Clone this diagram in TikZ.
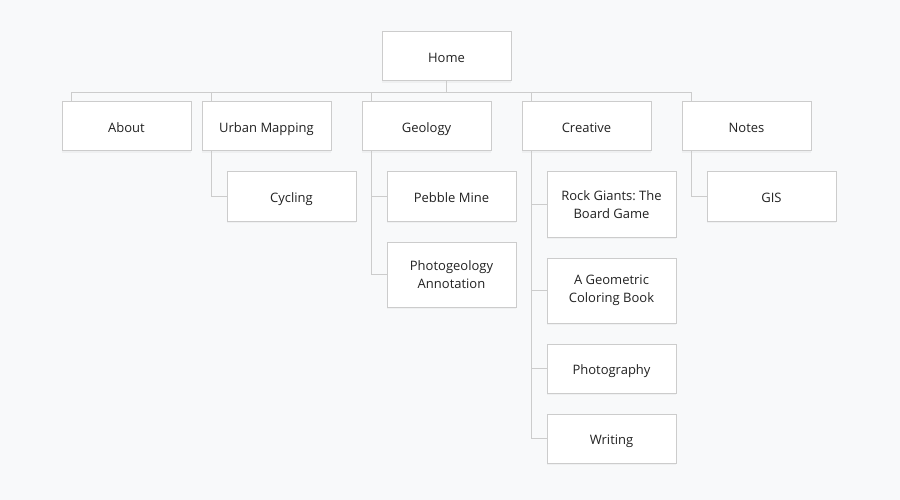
\documentclass[tikz,border=0pt]{standalone}
\usepackage{fontspec}
\setmainfont{Open Sans}
\usepackage{xcolor}
\usepackage{tikz}
\usetikzlibrary{shadows}
\frenchspacing
\definecolor{sitebg}{RGB}{248, 249, 250}
\definecolor{siteline}{RGB}{204, 204, 204}
\definecolor{sitetext}{RGB}{34, 34, 34}

\begin{document}
\begin{tikzpicture}[x=1pt, y=-1pt,
    pagebox/.style={draw=siteline, line width=1pt, fill=white, minimum width=129pt,
        align=center, text=sitetext, font=\fontsize{13}{18}\selectfont,
        drop shadow={shadow xshift=0pt, shadow yshift=-2pt, opacity=0.07}},
    page/.style={pagebox, minimum height=49pt, text height=12pt, text depth=0pt},
    tallpage/.style={pagebox, minimum height=65pt},
    link/.style={draw=siteline, line width=1pt}]
    % background
    \fill[sitebg] (0,0) rectangle (900,500);
    \useasboundingbox (0,0) rectangle (900,500);

    % root
    \node[page] (home) at (446.5,56.5) {Home};

    % top level sections
    \node[page] (about) at (126.5,126.5) {About};
    \node[page] (urban) at (266.5,126.5) {Urban Mapping};
    \node[page] (geology) at (426.5,126.5) {Geology};
    \node[page] (creative) at (586.5,126.5) {Creative};
    \node[page] (notes) at (746.5,126.5) {Notes};

    % urban mapping pages
    \node[page] (cycling) at (291.5,196.5) {Cycling};

    % geology pages
    \node[page] (pebble) at (451.5,196.5) {Pebble Mine};
    \node[tallpage] (photogeo) at (451.5,274.5) {Photogeology\\Annotation};

    % creative pages
    \node[tallpage] (rockgiants) at (611.5,204.5) {Rock Giants: The\\Board Game};
    \node[tallpage] (coloring) at (611.5,290.5) {A Geometric\\Coloring Book};
    \node[page] (photography) at (611.5,368.5) {Photography};
    \node[page] (writing) at (611.5,438.5) {Writing};

    % notes pages
    \node[page] (gis) at (771.5,196.5) {GIS};

    % home to sections
    \foreach \sec in {about,urban,geology,creative,notes}
        \draw[link] (home.south) -- ++(0,11) -| ([xshift=10pt]\sec.north west);

    % sections to pages
    \draw[link] ([xshift=10pt]urban.south west) |- (cycling.west);
    \draw[link] ([xshift=10pt]geology.south west) |- (pebble.west);
    \draw[link] ([xshift=10pt]geology.south west) |- (photogeo.west);
    \foreach \pg in {rockgiants,coloring,photography,writing}
        \draw[link] ([xshift=10pt]creative.south west) |- (\pg.west);
    \draw[link] ([xshift=10pt]notes.south west) |- (gis.west);
\end{tikzpicture}
\end{document}
